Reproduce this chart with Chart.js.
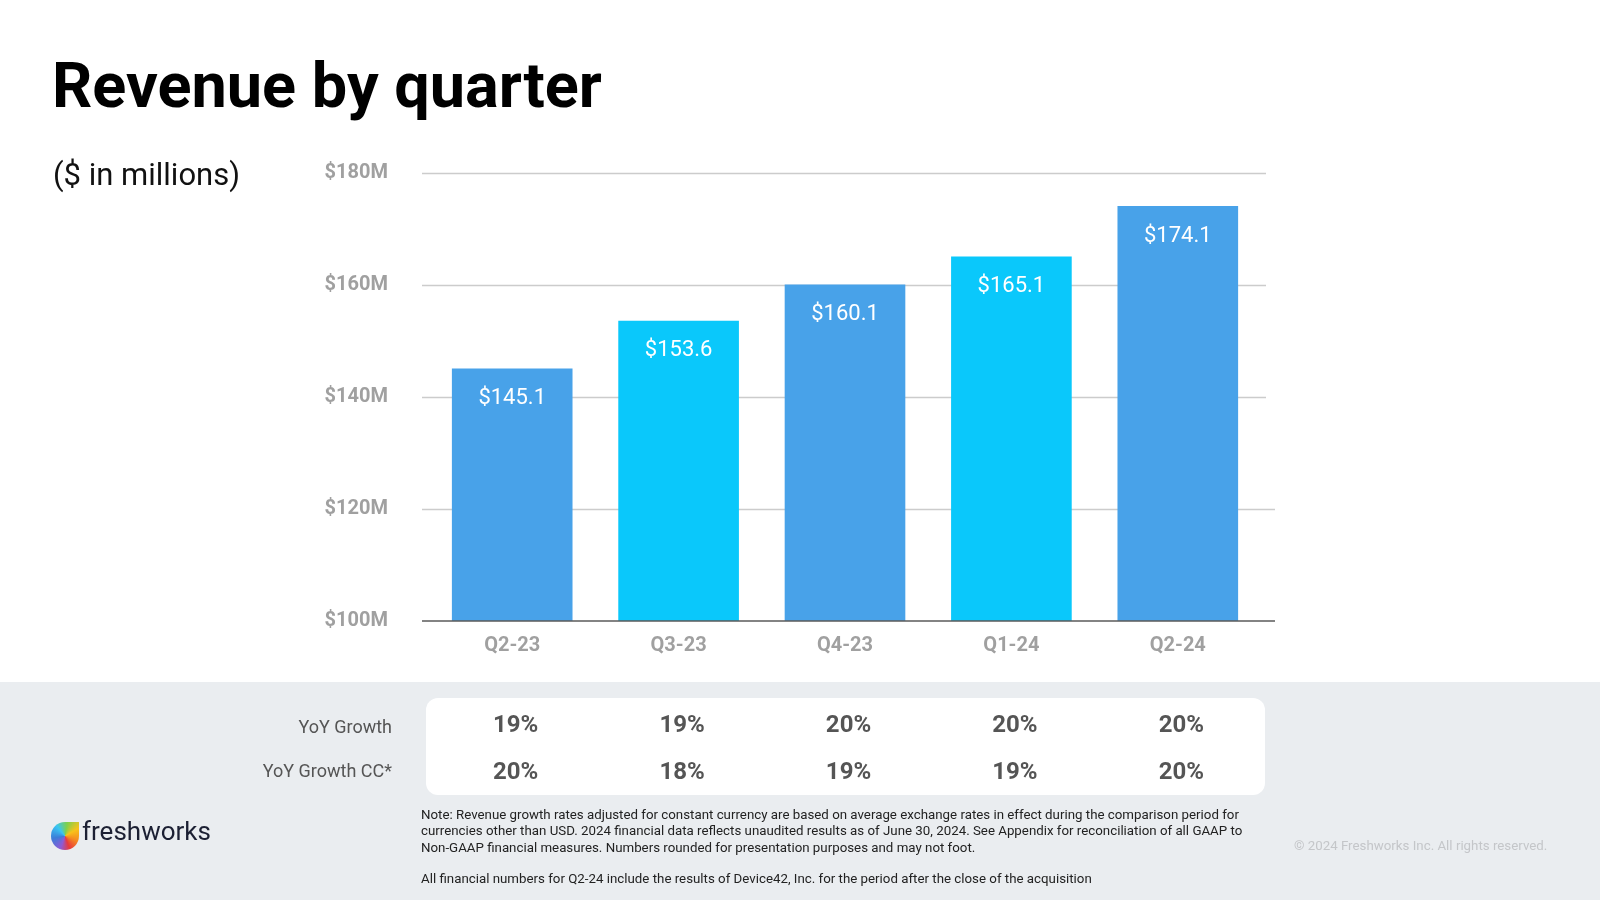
<!DOCTYPE html>
<html>
<head>
<meta charset="utf-8">
<script src="https://cdn.jsdelivr.net/npm/chart.js@4/dist/chart.umd.min.js"></script>
<style>
  html, body { margin: 0; padding: 0; width: 1600px; height: 900px; overflow: hidden; background: #ffffff; font-family: Roboto, "Noto Sans", sans-serif; }
  .abs { position: absolute; white-space: nowrap; }
  #band { position: absolute; left: 0; top: 682px; width: 1600px; height: 218px; background: #eaedf0; z-index: 0; }
  #box { position: absolute; left: 426px; top: 698px; width: 839px; height: 97px; background: #ffffff; border-radius: 12px; z-index: 0; }
  #chart { position: absolute; left: 0; top: 0; z-index: 1; }
  #title { left: 52px; top: 54px; font-size: 63px; line-height: 63px; font-weight: 700; color: #000; z-index: 2; }
  #sub { left: 53px; top: 159px; font-size: 31px; line-height: 32px; color: #111; z-index: 2; }
  .rowlab { right: 1208px; font-size: 18px; line-height: 20px; color: #555; z-index: 2; }
  #note { left: 421px; top: 807px; font-size: 13.3px; line-height: 16.3px; color: #222; z-index: 2; }
  #note2 { left: 421px; top: 871px; font-size: 13.3px; line-height: 16px; color: #222; z-index: 2; }
  #copy { left: 1294px; top: 838px; font-size: 13.3px; line-height: 16px; color: #c4c6c9; z-index: 2; }
  #logo { left: 51px; top: 822px; width: 28px; height: 28px; border-radius: 50% 0 50% 50%;
          background: conic-gradient(from 200deg, #8e5bd6 0deg, #3b7dd8 60deg, #39c5f3 120deg, #7ed04b 170deg, #f8c21a 220deg, #f58b1f 270deg, #e8393d 320deg, #8e5bd6 360deg); z-index: 2; }
  #brand { left: 82px; top: 816px; font-size: 26px; line-height: 30px; color: #1c2033; z-index: 2; }
</style>
</head>
<body>
<div id="band"></div>
<div id="box"></div>
<canvas id="chart" width="1600" height="900"></canvas>
<div id="title" class="abs">Revenue by quarter</div>
<div id="sub" class="abs">($ in millions)</div>
<div class="abs rowlab" style="top:717px">YoY Growth</div>
<div class="abs rowlab" style="top:761px">YoY Growth CC*</div>
<div id="note" class="abs">Note: Revenue growth rates adjusted for constant currency are based on average exchange rates in effect during the comparison period for<br>currencies other than USD. 2024 financial data reflects unaudited results as of June 30, 2024. See Appendix for reconciliation of all GAAP to<br>Non-GAAP financial measures. Numbers rounded for presentation purposes and may not foot.</div>
<div id="note2" class="abs">All financial numbers for Q2-24 include the results of Device42, Inc. for the period after the close of the acquisition</div>
<div id="copy" class="abs">© 2024 Freshworks Inc. All rights reserved.</div>
<div id="logo" class="abs"></div>
<div id="brand" class="abs">freshworks</div>
<script>
// ---- Data ----
const quarters = ["Q2-23", "Q3-23", "Q4-23", "Q1-24", "Q2-24"];
const revenue = [145.1, 153.6, 160.1, 165.1, 174.1];
const yoyGrowth = ["19%", "19%", "20%", "20%", "20%"];
const yoyGrowthCC = ["20%", "18%", "19%", "19%", "20%"];
const yTicks = [100, 120, 140, 160, 180];
const barColors = ["#48a2e9", "#0ac8fb", "#48a2e9", "#0ac8fb", "#48a2e9"];

// gridlines drawn from the y scale, slightly wider than the category span
const gridPlugin = {
  id: 'wideGrid',
  beforeDatasetsDraw(chart) {
    const ctx = chart.ctx, ys = chart.scales.y, a = chart.chartArea;
    ctx.save();
    yTicks.forEach(v => {
      const y = Math.round(ys.getPixelForValue(v)) + 0.5;
      if (v === ys.min) return;
      ctx.strokeStyle = '#cccccc';
      ctx.lineWidth = 1.5;
      ctx.beginPath();
      ctx.moveTo(a.left - 7, y);
      ctx.lineTo(v <= 120 ? a.right + 14 : a.right + 5, y);
      ctx.stroke();
    });
    ctx.restore();
  },
  afterDatasetsDraw(chart) {
    const ctx = chart.ctx, ys = chart.scales.y, a = chart.chartArea;
    const y = Math.round(ys.getPixelForValue(ys.min));
    ctx.save();
    ctx.strokeStyle = '#5a5a5a';
    ctx.lineWidth = 1.5;
    ctx.beginPath();
    ctx.moveTo(a.left - 7, y);
    ctx.lineTo(a.right + 14, y);
    ctx.stroke();
    ctx.restore();
  }
};

const labelPlugin = {
  id: 'barLabels',
  afterDatasetsDraw(chart) {
    const ctx = chart.ctx;
    const meta = chart.getDatasetMeta(0);
    ctx.save();
    ctx.fillStyle = '#ffffff';
    ctx.font = '400 22px Roboto';
    ctx.textAlign = 'center';
    ctx.textBaseline = 'middle';
    meta.data.forEach((bar, i) => {
      ctx.fillText('$' + revenue[i].toFixed(1), bar.x, bar.y + 30);
    });
    // growth table values aligned with the category scale
    const xs = chart.scales.x;
    ctx.fillStyle = '#555555';
    ctx.font = '700 24px Roboto';
    quarters.forEach((q, i) => {
      const x = xs.getPixelForValue(i) + 3.5;
      ctx.fillText(yoyGrowth[i], x, 726);
      ctx.fillText(yoyGrowthCC[i], x, 773);
    });
    ctx.restore();
  }
};

new Chart(document.getElementById('chart'), {
  type: 'bar',
  data: {
    labels: quarters,
    datasets: [{
      data: revenue,
      backgroundColor: barColors,
      borderWidth: 0,
      categoryPercentage: 1.0,
      barPercentage: 0.725
    }]
  },
  options: {
    responsive: false,
    animation: false,
    layout: { padding: { top: 173, right: 339, bottom: 219, left: 0 } },
    plugins: { legend: { display: false }, tooltip: { enabled: false }, title: { display: false } },
    scales: {
      x: {
        grid: { display: false, drawTicks: false },
        border: { display: false },
        ticks: { color: '#a0a0a0', font: { family: 'Roboto', size: 20, weight: '700' }, padding: 13 },
        afterFit(scale) { scale.height = 60; }
      },
      y: {
        min: 100, max: 180,
        afterBuildTicks(scale) { scale.ticks = yTicks.map(v => ({ value: v })); },
        grid: { display: false, drawTicks: false },
        border: { display: false },
        ticks: {
          color: '#a0a0a0', font: { family: 'Roboto', size: 20, weight: '700' }, padding: 41,
          callback: (v) => '$' + v + 'M'
        },
        afterFit(scale) { scale.width = 429; }
      }
    }
  },
  plugins: [gridPlugin, labelPlugin]
});
</script>
</body>
</html>
